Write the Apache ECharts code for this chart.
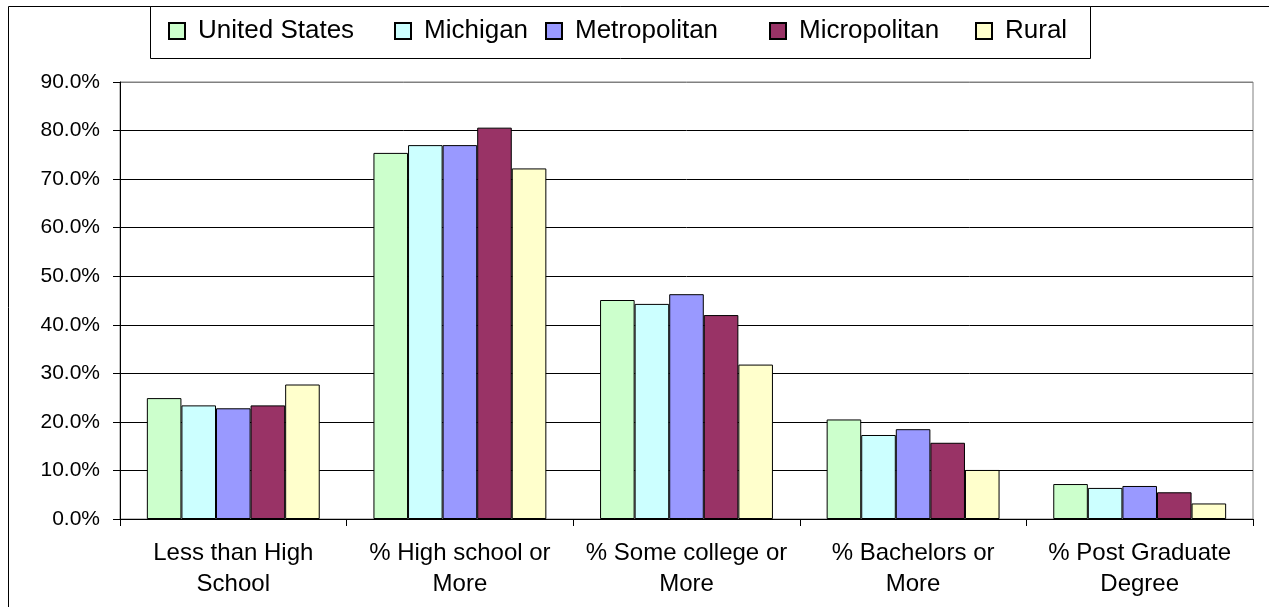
<!DOCTYPE html>
<html>
<head>
<meta charset="utf-8">
<script src="https://cdn.jsdelivr.net/npm/echarts@6/dist/echarts.min.js"></script>
<style>
html,body{margin:0;padding:0;background:#fff;}
#chart{width:1269px;height:607px;}
</style>
</head>
<body>
<div id="chart"></div>
<script>
const categories = ['Less than High\nSchool', '% High school or\nMore', '% Some college or\nMore', '% Bachelors or\nMore', '% Post Graduate\nDegree'];
const seriesNames = ['United States', 'Michigan', 'Metropolitan', 'Micropolitan', 'Rural'];
const unitedStates = [24.9, 75.4, 45.1, 20.5, 7.2];
const michigan     = [23.4, 77.0, 44.3, 17.3, 6.4];
const metropolitan = [22.8, 77.0, 46.3, 18.5, 6.8];
const micropolitan = [23.4, 80.6, 42.0, 15.7, 5.5];
const rural        = [27.7, 72.2, 31.8, 10.1, 3.2];
const yTicks = [0, 10, 20, 30, 40, 50, 60, 70, 80, 90];

const values = [unitedStates, michigan, metropolitan, micropolitan, rural];
const colors = ['#CCFFCC', '#CCFFFF', '#9999FF', '#993366', '#FFFFCC'];
const legendLeft = [168, 394, 545, 769, 975];
const FONT = '"Liberation Sans", Arial, sans-serif';

const chart = echarts.init(document.getElementById('chart'), null, {renderer: 'canvas'});
const option = {
  backgroundColor: '#fff',
  animation: false,
  graphic: [
    {type: 'rect', z: -10, shape: {x: 8.5, y: 6.5, width: 1400, height: 800}, style: {fill: '#fff', stroke: '#000', lineWidth: 1}},
    {type: 'rect', z: -5, shape: {x: 150.5, y: 6.5, width: 940, height: 52}, style: {fill: '#fff', stroke: '#000', lineWidth: 1}}
  ],
  legend: seriesNames.map((n, i) => ({
    data: [n],
    left: legendLeft[i],
    top: 16,
    padding: 0,
    icon: 'rect',
    itemWidth: 16,
    itemHeight: 16,
    selectedMode: false,
    textStyle: {fontFamily: FONT, fontSize: 26, color: '#000', padding: [0, 0, 0, 8], lineHeight: 30}
  })),
  grid: {left: 120, right: 16, top: 82, bottom: 88, show: true, borderColor: '#808080', borderWidth: 1, backgroundColor: '#fff'},
  xAxis: {
    type: 'category',
    data: categories,
    axisLine: {lineStyle: {color: '#000', width: 1}},
    axisTick: {show: true, length: 7, lineStyle: {color: '#000'}},
    axisLabel: {interval: 0, fontFamily: FONT, fontSize: 24, lineHeight: 31, color: '#000', margin: 19}
  },
  yAxis: {
    type: 'value',
    min: yTicks[0],
    max: yTicks[yTicks.length - 1],
    interval: yTicks[1] - yTicks[0],
    axisLine: {show: true, lineStyle: {color: '#000', width: 1}},
    axisTick: {show: true, length: 7, lineStyle: {color: '#000'}},
    axisLabel: {fontFamily: FONT, fontSize: 21, color: '#000', margin: 20, formatter: v => v.toFixed(1) + '%'},
    splitLine: {lineStyle: {color: ['#000','#000','#000','#000','#000','#000','#000','#000','#000','#808080'], width: 1}}
  },
  series: seriesNames.map((n, i) => ({
    name: n,
    type: 'bar',
    data: values[i],
    barGap: '0%',
    barCategoryGap: '23.7%',
    itemStyle: {color: colors[i], borderColor: '#000', borderWidth: 1}
  }))
};
chart.setOption(option);
</script>
</body>
</html>
